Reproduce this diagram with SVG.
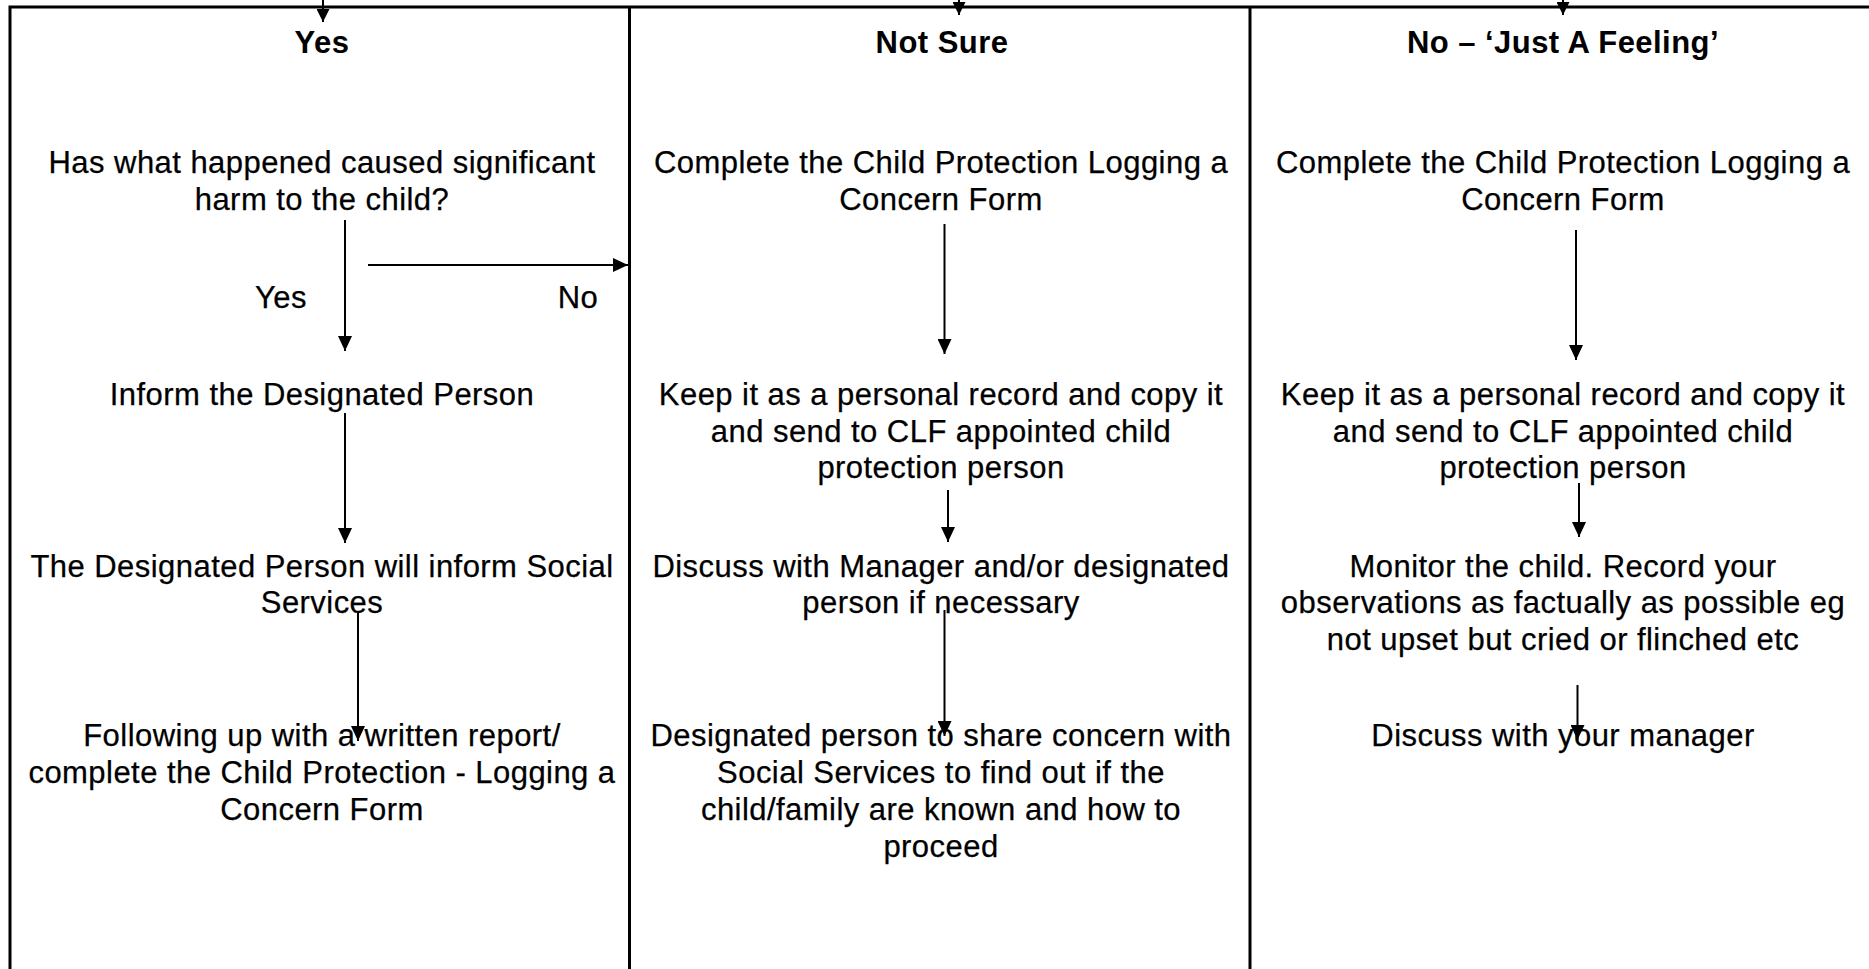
<svg xmlns="http://www.w3.org/2000/svg" width="1869" height="969" viewBox="0 0 1869 969">
<style>
text{font-family:"Liberation Sans",Arial,sans-serif;font-size:31px;fill:#000;stroke:#000;stroke-width:0.25;text-anchor:middle;letter-spacing:0.45px}
.h{font-weight:bold;stroke-width:0}
.frame{stroke:#000;stroke-width:3;fill:none}
.c{stroke:#000;stroke-width:2;fill:none;marker-end:url(#ah)}
.ct{stroke:#000;stroke-width:2;fill:none;marker-end:url(#ahs)}
</style>
<defs>
<marker id="ah" markerUnits="userSpaceOnUse" markerWidth="15" markerHeight="14" refX="15" refY="7" orient="auto"><path d="M0,0L15,7L0,14z" fill="#000"/></marker>
<marker id="ahs" markerUnits="userSpaceOnUse" markerWidth="13" markerHeight="13" refX="13" refY="6.5" orient="auto"><path d="M0,0L13,6.5L0,13z" fill="#000"/></marker>
</defs>
<rect width="1869" height="969" fill="#fff"/>
<g id="frame">
<path class="frame" d="M10,970V7H1870M629.5,7V970M1250,7V970"/>
</g>
<g id="connectors">
<line class="ct" x1="323" y1="0" x2="323" y2="22"/>
<line class="ct" x1="959" y1="0" x2="959" y2="15"/>
<line class="ct" x1="1563" y1="0" x2="1563" y2="15"/>
<line class="c" x1="345" y1="220" x2="345" y2="351"/>
<line class="c" x1="368" y1="265" x2="628" y2="265"/>
<line class="c" x1="345" y1="413" x2="345" y2="543"/>
<line class="c" x1="358" y1="613" x2="358" y2="741"/>
<line class="c" x1="944.5" y1="224" x2="944.5" y2="354"/>
<line class="c" x1="948" y1="490" x2="948" y2="542"/>
<line class="c" x1="944.5" y1="610" x2="944.5" y2="736"/>
<line class="c" x1="1576" y1="230" x2="1576" y2="360"/>
<line class="c" x1="1579" y1="483" x2="1579" y2="537"/>
<line class="c" x1="1577.5" y1="685" x2="1577.5" y2="740"/>
</g>
<g id="hdr-yes"><text class="h" x="322" y="53">Yes</text></g>
<g id="hdr-notsure"><text class="h" x="942" y="53">Not Sure</text></g>
<g id="hdr-no"><text class="h" x="1563" y="53">No – ‘Just A Feeling’</text></g>
<g id="n-harm"><text x="322" y="173">Has what happened caused significant<tspan x="322" y="209.5">harm to the child?</tspan></text></g>
<g id="lbl-yes"><text x="281" y="308">Yes</text></g>
<g id="lbl-no"><text x="578" y="308">No</text></g>
<g id="n-inform"><text x="322" y="405">Inform the Designated Person</text></g>
<g id="n-dp-inform"><text x="322" y="577">The Designated Person will inform Social<tspan x="322" y="613">Services</tspan></text></g>
<g id="n-followup"><text x="322" y="746">Following up with a written report/<tspan x="322" y="783">complete the Child Protection - Logging a</tspan><tspan x="322" y="820">Concern Form</tspan></text></g>
<g id="n-complete2"><text x="941" y="173">Complete the Child Protection Logging a<tspan x="941" y="209.5">Concern Form</tspan></text></g>
<g id="n-keep2"><text x="941" y="405">Keep it as a personal record and copy it<tspan x="941" y="441.5">and send to CLF appointed child</tspan><tspan x="941" y="478">protection person</tspan></text></g>
<g id="n-discuss2"><text x="941" y="577">Discuss with Manager and/or designated<tspan x="941" y="613">person if necessary</tspan></text></g>
<g id="n-share"><text x="941" y="746">Designated person to share concern with<tspan x="941" y="783">Social Services to find out if the</tspan><tspan x="941" y="820">child/family are known and how to</tspan><tspan x="941" y="857">proceed</tspan></text></g>
<g id="n-complete3"><text x="1563" y="173">Complete the Child Protection Logging a<tspan x="1563" y="209.5">Concern Form</tspan></text></g>
<g id="n-keep3"><text x="1563" y="405">Keep it as a personal record and copy it<tspan x="1563" y="441.5">and send to CLF appointed child</tspan><tspan x="1563" y="478">protection person</tspan></text></g>
<g id="n-monitor"><text x="1563" y="577">Monitor the child. Record your<tspan x="1563" y="613">observations as factually as possible eg</tspan><tspan x="1563" y="650">not upset but cried or flinched etc</tspan></text></g>
<g id="n-discuss3"><text x="1563" y="746">Discuss with your manager</text></g>
</svg>
